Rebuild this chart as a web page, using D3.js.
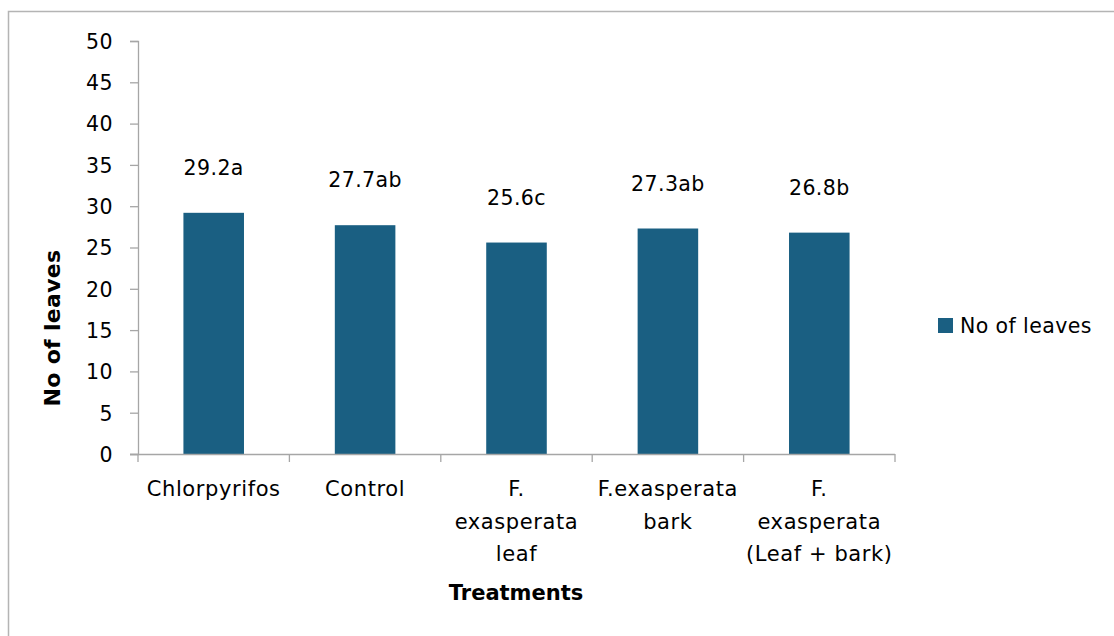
<!DOCTYPE html>
<html><head><meta charset="utf-8">
<script src="https://cdn.jsdelivr.net/npm/d3@7"></script>
<style>body{margin:0;background:#fff;}svg{display:block;font-family:"DejaVu Sans",sans-serif;letter-spacing:0.4px;}</style>
</head><body>
<svg id="c" width="1114" height="636"></svg>
<script>
const categories = ["Chlorpyrifos","Control","F. exasperata leaf","F.exasperata bark","F. exasperata (Leaf + bark)"];
const categoryLines = [["Chlorpyrifos"],["Control"],["F.","exasperata","leaf"],["F.exasperata","bark"],["F.","exasperata","(Leaf + bark)"]];
const values = [29.2, 27.7, 25.6, 27.3, 26.8];
const letters = ["a","ab","c","ab","b"];
const yTicks = [0,5,10,15,20,25,30,35,40,45,50];
const seriesName = "No of leaves";

const svg = d3.select("#c");
const color = "#1a5f82";
const axisColor = "#a6a6a6";
// frame
svg.append("path").attr("d","M8.5,640 V11.5 H1120").attr("fill","none").attr("stroke","#b4b4b4").attr("stroke-width",1.5);

const x = d3.scaleBand().domain(categories).range([138, 895]).paddingInner(0.6).paddingOuter(0.3);
const xb = d3.scaleBand().domain(categories).range([138, 895]);
const y = d3.scaleLinear().domain([0,50]).range([454, 41]);

// y axis
const ya = svg.append("g").attr("transform","translate(138,0)")
  .call(d3.axisLeft(y).tickValues(yTicks).tickSize(8).tickPadding(17));
ya.select(".domain").attr("stroke",axisColor).attr("stroke-width",1.3).attr("d","M-8,41.5H0.5V454.5H-8");
ya.selectAll(".tick line").attr("stroke",axisColor).attr("stroke-width",1.3);
ya.selectAll(".tick text").attr("fill","#000").style("font-size","20.5px").style("font-family","'DejaVu Sans',sans-serif").attr("dy","0.36em");

// bars
svg.selectAll("rect.bar").data(values).join("rect").attr("class","bar")
  .attr("x",(d,i)=>x(categories[i])).attr("width",x.bandwidth())
  .attr("y",d=>y(d)).attr("height",d=>y(0)-y(d)).attr("fill",color);

// x axis
const xa = svg.append("g").attr("transform","translate(0,454)");
xa.append("line").attr("x1",130).attr("x2",895).attr("y1",0.5).attr("y2",0.5).attr("stroke",axisColor).attr("stroke-width",1.3);
const bounds = categories.map(c=>xb(c)).concat([xb(categories[categories.length-1])+xb.bandwidth()]);
xa.selectAll("line.t").data(bounds).join("line").attr("class","t")
  .attr("x1",d=>d).attr("x2",d=>d).attr("y1",0).attr("y2",8).attr("stroke",axisColor).attr("stroke-width",1.3);

// x labels
categoryLines.forEach((lines,i)=>{
  const cx = xb(categories[i]) + xb.bandwidth()/2;
  const t = svg.append("text").attr("x",cx).attr("y",496).attr("text-anchor","middle").style("font-size","21px").style("letter-spacing","0.6px").attr("fill","#000");
  lines.forEach((l,j)=>t.append("tspan").attr("x",cx).attr("dy", j===0?0:32.5).text(l));
});

// value labels
svg.selectAll("text.val").data(values).join("text").attr("class","val")
  .attr("x",(d,i)=>x(categories[i])+x.bandwidth()/2).attr("y",d=>y(d)-38)
  .attr("text-anchor","middle").style("font-size","20.5px").attr("fill","#000")
  .text((d,i)=>d.toFixed(1)+letters[i]);

// axis titles
svg.append("text").attr("transform","translate(60,328) rotate(-90)").attr("text-anchor","middle")
  .style("font-size","22px").style("font-weight","bold").style("letter-spacing","0.3px").text(seriesName);
svg.append("text").attr("x",516).attr("y",600).attr("text-anchor","middle")
  .style("font-size","21px").style("font-weight","bold").style("letter-spacing","0px").text("Treatments");

// legend
svg.append("rect").attr("x",938).attr("y",318).attr("width",15).attr("height",15).attr("fill",color);
svg.append("text").attr("x",960).attr("y",333).style("font-size","20.5px").text(seriesName);
</script>
</body></html>
